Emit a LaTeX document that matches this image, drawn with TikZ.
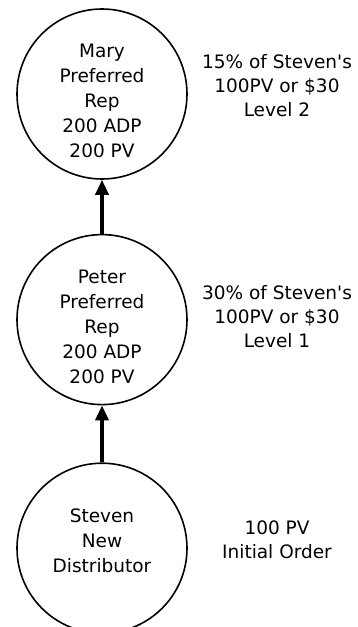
\documentclass[tikz,border=0pt]{standalone}
\usepackage{fontspec}
\setmainfont{DejaVu Sans}
\usetikzlibrary{positioning, arrows.meta}

\tikzset{
  member/.style={draw, circle, line width=1.6pt, minimum size=170pt, inner sep=0pt},
  memtext/.style={align=center, font=\fontsize{18.5}{25}\selectfont},
  note/.style={align=center, font=\fontsize{18.5}{24}\selectfont},
  upline/.style={line width=3.5pt, -{Triangle[width=13pt,length=15pt]}}
}

\begin{document}
\begin{tikzpicture}
  \useasboundingbox (0,0) rectangle (357pt,-627pt);

  %Define nodes
  \node[member, label={[memtext, yshift=-7pt]center:{Mary\\Preferred\\Rep\\200 ADP\\200 PV}}] (mary) at (102pt,-94pt) {};
  \node[member, below=54pt of mary, label={[memtext, yshift=-7pt]center:{Peter\\Preferred\\Rep\\200 ADP\\200 PV}}] (peter) {};
  \node[member, below=57pt of peter, label={[memtext, yshift=7pt]center:{Steven\\New\\Distributor}}] (steven) {};

  % Notes beside the circles
  \node[note] (maryinfo) at ([xshift=175pt, yshift=8pt]mary.center) {15\% of Steven\textquotesingle s\\100PV or \$30\\Level 2};
  \node[note] (peterinfo) at ([xshift=175pt, yshift=3pt]peter.center) {30\% of Steven\textquotesingle s\\100PV or \$30\\Level 1};
  \node[note] (steveninfo) at ([xshift=175pt, yshift=8pt]steven.center) {100 PV\\Initial Order};

  % Connect the nodes
  \draw[upline] (peter) -- (mary);
  \draw[upline] (steven) -- (peter);

\end{tikzpicture}
\end{document}
